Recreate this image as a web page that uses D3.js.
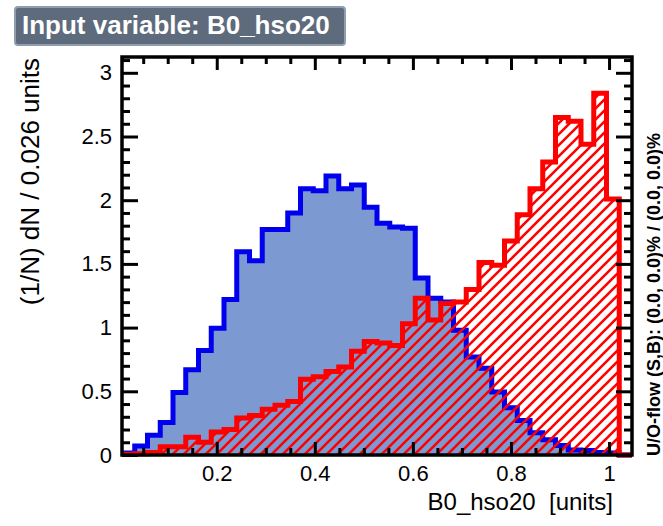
<!DOCTYPE html>
<html>
<head>
<meta charset="utf-8">
<script src="https://cdn.jsdelivr.net/npm/d3@7"></script>
<style>
  html, body { margin: 0; padding: 0; background: #ffffff; }
  svg { display: block; }
  text { font-family: "Liberation Sans", Arial, Helvetica, sans-serif; white-space: pre; }
</style>
</head>
<body>
<svg id="chart" width="663" height="526"></svg>
<script>
// Histogram binning of B0_hso20
const xLow = 0.0068;
const binWidth = 0.026;
const nBins = 40;

// Normalised bin contents (1/N) dN per bin
const signal = [
  0.015, 0.07, 0.155, 0.255, 0.49, 0.67, 0.82, 0.995, 1.22, 1.595,
  1.525, 1.77, 1.77, 1.90, 2.09, 2.075, 2.19, 2.09, 2.12, 1.945,
  1.82, 1.79, 1.78, 1.39, 1.23, 1.20, 0.98, 0.77, 0.68, 0.495,
  0.37, 0.27, 0.175, 0.12, 0.075, 0.04, 0.035, 0.02, 0.015, 0
];
const background = [
  0.005, 0.01, 0.02, 0.065, 0.065, 0.14, 0.10, 0.18, 0.20, 0.29,
  0.31, 0.36, 0.39, 0.42, 0.595, 0.615, 0.655, 0.69, 0.815, 0.89,
  0.88, 0.86, 1.03, 1.23, 1.06, 1.19, 1.20, 1.30, 1.51, 1.49,
  1.68, 1.885, 2.09, 2.30, 2.65, 2.62, 2.44, 2.84, 2.01, 0
];

const xTicks = [0.2, 0.4, 0.6, 0.8, 1];
const xTickLabels = ["0.2", "0.4", "0.6", "0.8", "1"];
const yTicks = [0, 0.5, 1, 1.5, 2, 2.5, 3];
const yTickLabels = ["0", "0.5", "1", "1.5", "2", "2.5", "3"];

const titleText = "Input variable: B0_hso20";
const xTitle = "B0_hso20  [units]";
const yTitle = "(1/N) dN / 0.026 units";
const flowText = "U/O-flow (S,B): (0.0, 0.0)% / (0.0, 0.0)%";

const frame = { left: 122, right: 632, top: 57, bottom: 455 };

const svg = d3.select("#chart");

const x = d3.scaleLinear()
  .domain([xLow, xLow + nBins * binWidth])
  .range([frame.left, frame.right]);
const yMax = 1.1 * d3.max(signal.concat(background));
const y = d3.scaleLinear()
  .domain([0, yMax])
  .range([frame.bottom, frame.top]);

// Step outline of a histogram
function stepPath(values) {
  const p = d3.path();
  p.moveTo(x(xLow), y(0));
  values.forEach((v, i) => {
    p.lineTo(x(xLow + i * binWidth), y(v));
    p.lineTo(x(xLow + (i + 1) * binWidth), y(v));
  });
  p.lineTo(x(xLow + values.length * binWidth), y(0));
  return p.toString();
}

// Hatch pattern for the background histogram
const defs = svg.append("defs");
const hatch = defs.append("pattern")
  .attr("id", "hatch")
  .attr("patternUnits", "userSpaceOnUse")
  .attr("width", 11)
  .attr("height", 11);
hatch.append("path")
  .attr("d", "M-2,13 L13,-2 M-2,2 L2,-2 M9,13 L13,9")
  .attr("stroke", "#ff0000")
  .attr("stroke-width", 2.6)
  .attr("fill", "none");

defs.append("clipPath").attr("id", "plotClip")
  .append("rect")
  .attr("x", frame.left).attr("y", frame.top - 10)
  .attr("width", frame.right - frame.left)
  .attr("height", frame.bottom - frame.top + 14);

const plot = svg.append("g").attr("clip-path", "url(#plotClip)");

// Signal: filled histogram
plot.append("path")
  .attr("d", stepPath(signal) + "Z")
  .attr("fill", "#7d99d1")
  .attr("stroke", "none");
plot.append("path")
  .attr("d", stepPath(signal))
  .attr("fill", "none")
  .attr("stroke", "#0000ee")
  .attr("stroke-width", 5)
  .attr("stroke-linejoin", "miter");

// Background: hatched histogram
plot.append("path")
  .attr("d", stepPath(background) + "Z")
  .attr("fill", "url(#hatch)")
  .attr("stroke", "none");
plot.append("path")
  .attr("d", stepPath(background))
  .attr("fill", "none")
  .attr("stroke", "#ff0000")
  .attr("stroke-width", 5)
  .attr("stroke-linejoin", "miter");

// Axes with inward ticks
const xMinor = d3.range(0.05, 1.05, 0.05).filter(v => Math.abs(v / 0.2 - Math.round(v / 0.2)) > 1e-6);
const yMinor = d3.range(0.1, 3.12, 0.1).filter(v => Math.abs(v / 0.5 - Math.round(v / 0.5)) > 1e-6);

function styleAxis(g, fontSize) {
  g.select(".domain").remove();
  g.selectAll(".tick line").attr("stroke", "#000").attr("stroke-width", 3);
  g.selectAll(".tick text").attr("fill", "#000")
    .style("font-size", fontSize + "px")
    .style("font-family", "'Liberation Sans', Arial, Helvetica, sans-serif");
}

// bottom
svg.append("g").attr("transform", `translate(0,${frame.bottom})`)
  .call(d3.axisBottom(x).tickValues(xTicks).tickSizeInner(-13).tickSizeOuter(0).tickPadding(10)
    .tickFormat((d, i) => xTickLabels[i]))
  .call(g => styleAxis(g, 22));
svg.append("g").attr("transform", `translate(0,${frame.bottom})`)
  .call(d3.axisBottom(x).tickValues(xMinor).tickSizeInner(-7).tickSizeOuter(0).tickFormat(""))
  .call(g => styleAxis(g, 22));
// top
svg.append("g").attr("transform", `translate(0,${frame.top})`)
  .call(d3.axisTop(x).tickValues(xTicks).tickSizeInner(-13).tickSizeOuter(0).tickFormat(""))
  .call(g => styleAxis(g, 22));
svg.append("g").attr("transform", `translate(0,${frame.top})`)
  .call(d3.axisTop(x).tickValues(xMinor).tickSizeInner(-7).tickSizeOuter(0).tickFormat(""))
  .call(g => styleAxis(g, 22));
// left
svg.append("g").attr("transform", `translate(${frame.left},0)`)
  .call(d3.axisLeft(y).tickValues(yTicks).tickSizeInner(-16).tickSizeOuter(0).tickPadding(10)
    .tickFormat((d, i) => yTickLabels[i]))
  .call(g => styleAxis(g, 22));
svg.append("g").attr("transform", `translate(${frame.left},0)`)
  .call(d3.axisLeft(y).tickValues(yMinor).tickSizeInner(-8).tickSizeOuter(0).tickFormat(""))
  .call(g => styleAxis(g, 22));
// right
svg.append("g").attr("transform", `translate(${frame.right},0)`)
  .call(d3.axisRight(y).tickValues(yTicks).tickSizeInner(-16).tickSizeOuter(0).tickFormat(""))
  .call(g => styleAxis(g, 22));
svg.append("g").attr("transform", `translate(${frame.right},0)`)
  .call(d3.axisRight(y).tickValues(yMinor).tickSizeInner(-8).tickSizeOuter(0).tickFormat(""))
  .call(g => styleAxis(g, 22));

// Frame
svg.append("rect")
  .attr("x", frame.left).attr("y", frame.top)
  .attr("width", frame.right - frame.left)
  .attr("height", frame.bottom - frame.top)
  .attr("fill", "none")
  .attr("stroke", "#000")
  .attr("stroke-width", 3.5);

// Axis titles
svg.append("text")
  .attr("x", 613).attr("y", 510)
  .attr("text-anchor", "end")
  .attr("xml:space", "preserve")
  .style("font-size", "24px")
  .attr("fill", "#000")
  .text(xTitle);

svg.append("text")
  .attr("transform", "translate(39,58) rotate(-90)")
  .attr("text-anchor", "end")
  .style("font-size", "26px")
  .attr("fill", "#000")
  .text(yTitle);

// Under/overflow note
svg.append("text")
  .attr("transform", "translate(660,456) rotate(-90)")
  .attr("text-anchor", "start")
  .style("font-size", "18px")
  .style("font-weight", "bold")
  .attr("fill", "#000")
  .text(flowText);

// Title box
svg.append("rect")
  .attr("x", 15).attr("y", 7)
  .attr("width", 330).attr("height", 38)
  .attr("rx", 3)
  .attr("fill", "#5d6b7d")
  .attr("stroke", "#8e9eae")
  .attr("stroke-width", 2);
svg.append("text")
  .attr("x", 22).attr("y", 34)
  .style("font-size", "26px")
  .style("font-weight", "bold")
  .attr("fill", "#ffffff")
  .text(titleText);
</script>
</body>
</html>
